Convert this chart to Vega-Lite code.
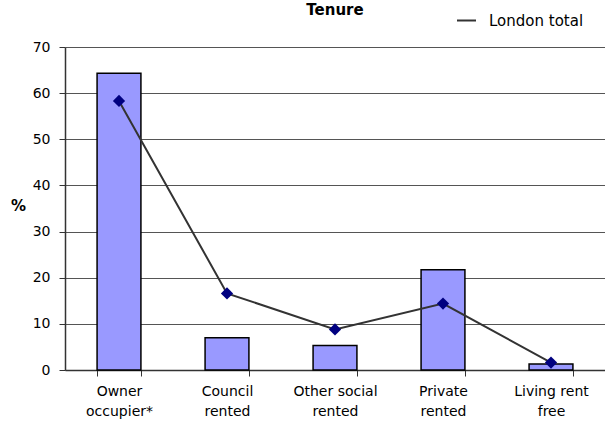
{
  "$schema": "https://vega.github.io/schema/vega-lite/v6.json",
  "width": 540,
  "height": 323,
  "autosize": {"type": "none"},
  "padding": {"left": 65, "top": 47, "right": 0, "bottom": 60},
  "config": {"font": "DejaVu Sans", "view": {"stroke": null}},
  "title": {"text": "Tenure", "fontSize": 15, "fontWeight": "bold", "anchor": "middle", "offset": 22, "dy": 30, "color": "black"},
  "data": {"values": [
    {"tenure": "Owner occupier*", "area": 64.3, "london": 58.3},
    {"tenure": "Council rented", "area": 7.0, "london": 16.6},
    {"tenure": "Other social rented", "area": 5.3, "london": 8.8},
    {"tenure": "Private rented", "area": 21.7, "london": 14.4},
    {"tenure": "Living rent free", "area": 1.3, "london": 1.6}
  ]},
  "encoding": {
    "x": {
      "field": "tenure", "type": "nominal", "sort": null,
      "scale": {"paddingInner": 0.594, "paddingOuter": 0.297},
      "axis": {
        "title": null, "labelAngle": 0, "tickBand": "extent", "tickSize": 6,
        "labelExpr": "[slice(datum.label, 0, lastindexof(datum.label, ' ')), slice(datum.label, lastindexof(datum.label, ' ') + 1)]",
        "labelLineHeight": 20, "labelFontSize": 14, "labelColor": "black",
        "labelPadding": 8, "labelBaseline": "top",
        "domainColor": "#333333", "tickColor": "#333333", "domainWidth": 1.5, "tickWidth": 1, "grid": false
      }
    }
  },
  "layer": [
    {
      "mark": {"type": "bar", "fill": "#9999ff", "stroke": "black", "strokeWidth": 1.5},
      "encoding": {
        "y": {
          "field": "area", "type": "quantitative",
          "scale": {"domain": [0, 70]},
          "axis": {
            "values": [0, 10, 20, 30, 40, 50, 60, 70],
            "title": "%", "titleAngle": 0, "titleX": -47, "titleY": 158,
            "titleFontSize": 15, "titleFontWeight": "bold", "titleAlign": "center", "titleBaseline": "middle", "titleColor": "black",
            "grid": true, "gridColor": "#555555", "gridWidth": 1,
            "tickSize": 6, "labelPadding": 9, "labelFontSize": 14, "labelColor": "black",
            "domainColor": "#333333", "tickColor": "#333333", "domainWidth": 1.5
          }
        }
      }
    },
    {
      "mark": {"type": "line", "strokeWidth": 2},
      "encoding": {
        "y": {"field": "london", "type": "quantitative"},
        "stroke": {
          "datum": "London total",
          "scale": {"range": ["#333333"]},
          "legend": {
            "orient": "none", "legendX": 391, "legendY": -37, "title": null,
            "symbolType": "stroke", "symbolSize": 361, "symbolStrokeWidth": 2, "symbolStrokeColor": "black",
            "labelFontSize": 15, "labelColor": "black", "labelOffset": 12, "padding": 0
          }
        }
      }
    },
    {
      "mark": {"type": "point", "shape": "diamond", "filled": true, "color": "#000080", "size": 150, "opacity": 1},
      "encoding": {"y": {"field": "london", "type": "quantitative"}}
    }
  ]
}
